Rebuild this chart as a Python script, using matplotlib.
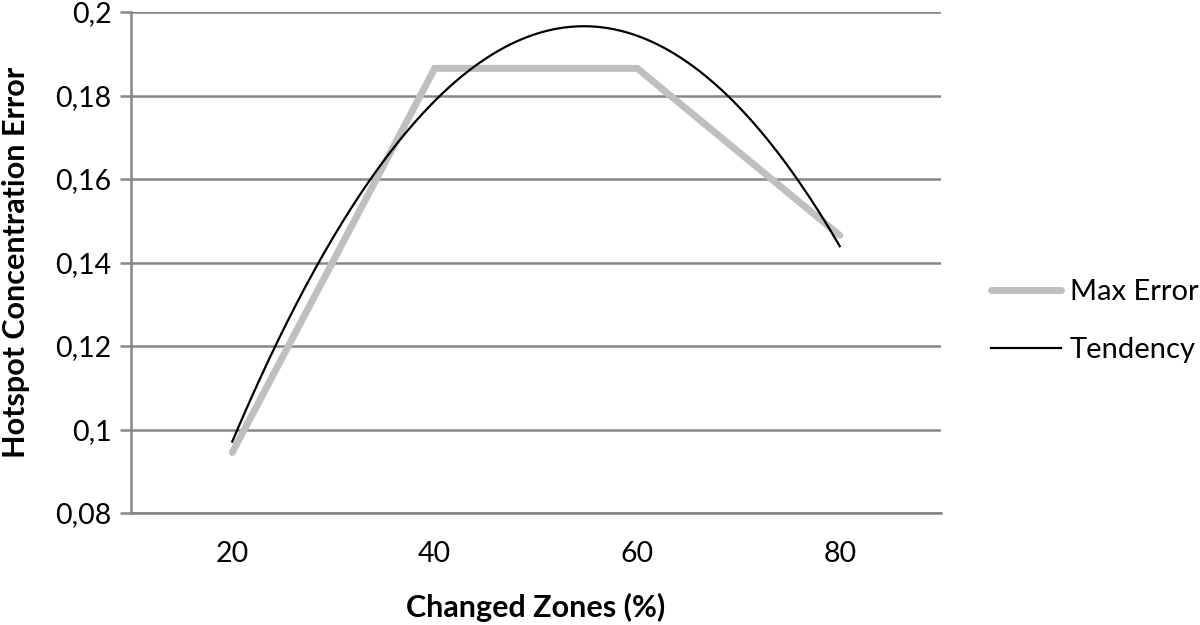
import numpy as np
import matplotlib.pyplot as plt
from matplotlib.ticker import FuncFormatter

plt.rcParams['font.family'] = ['Lato', 'DejaVu Sans']

# data
zones = ['20', '40', '60', '80']
max_error = [0.0945, 0.1865, 0.1865, 0.1465]

# Excel-style category positions 1..4, quadratic trendline fitted to the data
pos = np.arange(1, len(zones) + 1)
coef = np.polyfit(pos, max_error, 2)
xs = np.linspace(1, 4, 200)
trend = np.polyval(coef, xs)

fig = plt.figure(figsize=(12, 6.25), dpi=100)
ax = fig.add_axes([131 / 1200, 1 - 513 / 625, 810 / 1200, 501 / 625])

ax.plot(pos, max_error, color='#bfbfbf', lw=5, solid_capstyle='round',
        solid_joinstyle='miter', label='Max Error', zorder=3)
ax.plot(xs, trend, color='black', lw=1.6, label='Tendency', zorder=4)

ax.set_xlim(0.5, 4.5)
ax.set_ylim(0.08, 0.2)
ax.set_yticks(np.arange(0.08, 0.2001, 0.02))
ax.yaxis.set_major_formatter(FuncFormatter(lambda v, p: ('%g' % round(v, 3)).replace('.', ',')))
ax.set_xticks(pos)
ax.set_xticklabels(zones)

ax.grid(axis='y', color='#868686', lw=1.8)
ax.set_axisbelow(True)
for s in ['top', 'right']:
    ax.spines[s].set_visible(False)
ax.spines['left'].set_color('#868686')
ax.spines['left'].set_linewidth(1.8)
ax.spines['bottom'].set_color('#868686')
ax.spines['bottom'].set_linewidth(1.8)
ax.tick_params(axis='y', length=8, width=1.8, color='#868686', labelsize=20.5, pad=6)
ax.tick_params(axis='x', length=0, labelsize=20.5, pad=20)

ax.set_xlabel('Changed Zones (%)', fontsize=22, fontweight='bold', labelpad=19)
ax.set_ylabel('Hotspot Concentration Error', fontsize=22, fontweight='bold', labelpad=18)

ax.legend(loc='center left', bbox_to_anchor=((991 - 131) / 810, (513 - 321) / 501),
          frameon=False, borderpad=0, borderaxespad=0,
          fontsize=21, handlelength=2.4, labelspacing=1.1, handletextpad=0.3)

fig.savefig('out.png', dpi=100)
